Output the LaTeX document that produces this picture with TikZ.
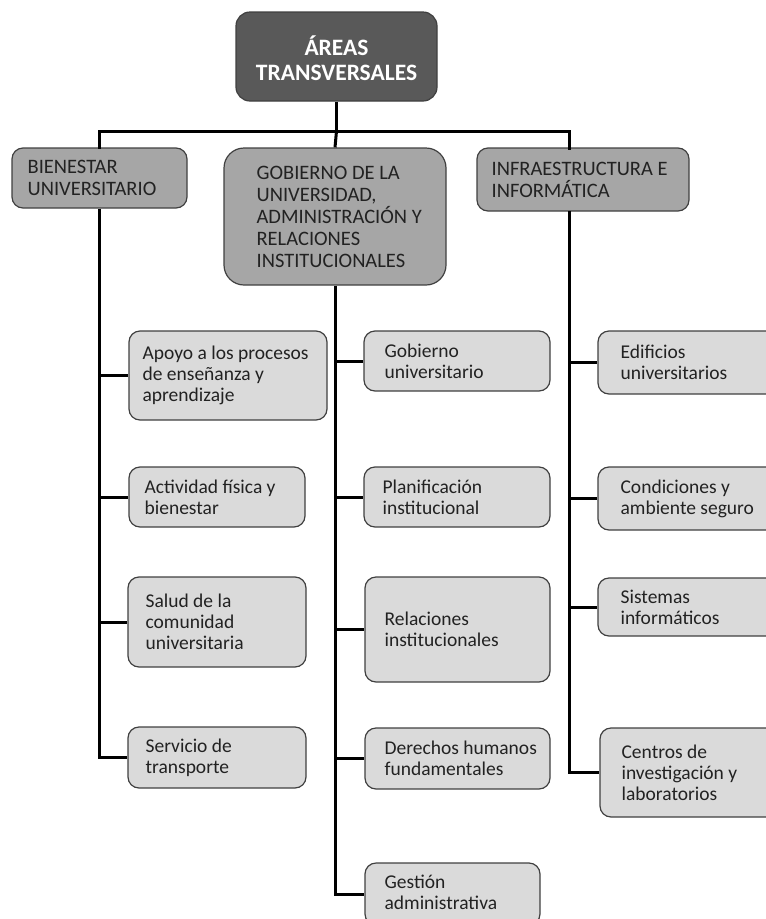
\documentclass[tikz,border=0pt]{standalone}
\usepackage{fontspec}
\setmainfont{Carlito}
\definecolor{topc}{HTML}{595959}
\definecolor{midc}{HTML}{A6A6A6}
\definecolor{leafc}{HTML}{DADADA}
\definecolor{bordc}{HTML}{404040}
\definecolor{txtc}{HTML}{222222}
\begin{document}
\begin{tikzpicture}[x=1pt,y=-1pt,
  base/.style={draw=bordc, line width=1.2pt, rounded corners=11pt, inner sep=0pt},
  topbox/.style={base, fill=topc, text=white, align=center, rounded corners=14pt, font=\fontsize{23.5}{25}\selectfont\bfseries},
  lvlone/.style={base, fill=midc},
  leaf/.style={base, fill=leafc},
  onetxt/.style={anchor=west, align=left, inner sep=0pt, text=txtc, font=\fontsize{20.5}{22}\selectfont},
  leaftxt/.style={anchor=west, align=left, inner sep=0pt, text=txtc, font=\fontsize{19.5}{21}\selectfont},
  conn/.style={line width=3pt, draw=black}]
\useasboundingbox (0,0) rectangle (766,919);
\clip (0,0) rectangle (766,919);
% top
\node[topbox, minimum width=201pt, minimum height=89pt] (top) at (336.5,56.5) {};
\node[anchor=center, align=center, inner sep=0pt, text=white, font=\fontsize{23.5}{25}\selectfont\bfseries] (topT) at ([yshift=-2pt]top.center) {ÁREAS\\TRANSVERSALES};
% level one
\node[lvlone, minimum width=175pt, minimum height=60pt] (bien) at (99.5,178) {};
\node[onetxt] (bienT) at ([xshift=16pt]bien.west) {BIENESTAR\\UNIVERSITARIO};
\node[lvlone, minimum width=222pt, minimum height=137pt, rounded corners=20pt] (gob) at (335,216.5) {};
\node[onetxt] (gobT) at ([xshift=33pt]gob.west) {GOBIERNO DE LA\\UNIVERSIDAD,\\ADMINISTRACIÓN Y\\RELACIONES\\INSTITUCIONALES};
\node[lvlone, minimum width=212pt, minimum height=63pt] (infra) at (583,179.5) {};
\node[onetxt] (infraT) at ([xshift=15pt]infra.west) {INFRAESTRUCTURA E\\INFORMÁTICA};
% left leaves
\node[leaf, minimum width=198pt, minimum height=89pt] (apoyo) at (228,375.5) {};
\node[leaftxt] (apoyoT) at ([xshift=14pt]apoyo.west) {Apoyo a los procesos\\de enseñanza y\\aprendizaje};
\node[leaf, minimum width=176pt, minimum height=60pt] (activ) at (217,497) {};
\node[leaftxt] (activT) at ([xshift=16pt]activ.west) {Actividad física y\\bienestar};
\node[leaf, minimum width=178pt, minimum height=90pt] (salud) at (217,622) {};
\node[leaftxt] (saludT) at ([xshift=18pt]salud.west) {Salud de la\\comunidad\\universitaria};
\node[leaf, minimum width=178pt, minimum height=61pt] (serv) at (217,757.5) {};
\node[leaftxt] (servT) at ([xshift=18pt]serv.west) {Servicio de\\transporte};
% middle leaves
\node[leaf, minimum width=186pt, minimum height=60pt] (gobu) at (457,361) {};
\node[leaftxt] (gobuT) at ([xshift=21pt]gobu.west) {Gobierno\\universitario};
\node[leaf, minimum width=186pt, minimum height=60pt] (plan) at (457,497) {};
\node[leaftxt] (planT) at ([xshift=19pt]plan.west) {Planificación\\institucional};
\node[leaf, minimum width=185pt, minimum height=105pt] (rel) at (457.5,629.5) {};
\node[leaftxt] (relT) at ([xshift=20pt]rel.west) {Relaciones\\institucionales};
\node[leaf, minimum width=185pt, minimum height=61pt] (der) at (457.5,758.5) {};
\node[leaftxt] (derT) at ([xshift=20pt]der.west) {Derechos humanos\\fundamentales};
\node[leaf, minimum width=175pt, minimum height=62pt] (gest) at (452.5,894) {};
\node[leaftxt] (gestT) at ([xshift=20pt,yshift=2pt]gest.west) {Gestión\\administrativa};
% right leaves
\node[leaf, minimum width=185pt, minimum height=63pt] (edif) at (690.5,362.5) {};
\node[leaftxt] (edifT) at ([xshift=23pt]edif.west) {Edificios\\universitarios};
\node[leaf, minimum width=185pt, minimum height=63pt] (cond) at (690.5,498.5) {};
\node[leaftxt] (condT) at ([xshift=23pt]cond.west) {Condiciones y\\ambiente seguro};
\node[leaf, minimum width=185pt, minimum height=58pt] (sist) at (690.5,607) {};
\node[leaftxt] (sistT) at ([xshift=23pt]sist.west) {Sistemas\\informáticos};
\node[leaf, minimum width=185pt, minimum height=89pt] (cent) at (692.5,772.5) {};
\node[leaftxt] (centT) at ([xshift=22pt]cent.west) {Centros de\\investigación y\\laboratorios};
% connectors
\coordinate (hub) at (336.5,131);
\coordinate (rtop) at (569,148);
\coordinate (rt) at (569,211);
\draw[conn] (top.south) -- (hub);
\draw[conn, line cap=rect] (bien.north) |- (hub) -| (rtop);
\draw[conn] (hub) -- (gob.north);
% left trunk
\draw[conn] (bien.south) |- (serv.west);
\draw[conn] (bien.south |- apoyo.west) -- (apoyo.west);
\draw[conn] (bien.south |- activ.west) -- (activ.west);
\draw[conn] (bien.south |- salud.west) -- (salud.west);
% middle trunk
\draw[conn] (gob.south) |- (gest.west);
\draw[conn] (gob.south |- gobu.west) -- (gobu.west);
\draw[conn] (gob.south |- plan.west) -- (plan.west);
\draw[conn] (gob.south |- rel.west) -- (rel.west);
\draw[conn] (gob.south |- der.west) -- (der.west);
% right trunk
\draw[conn] (rt) |- (cent.west);
\draw[conn] (rt |- edif.west) -- (edif.west);
\draw[conn] (rt |- cond.west) -- (cond.west);
\draw[conn] (rt |- sist.west) -- (sist.west);
\end{tikzpicture}
\end{document}
